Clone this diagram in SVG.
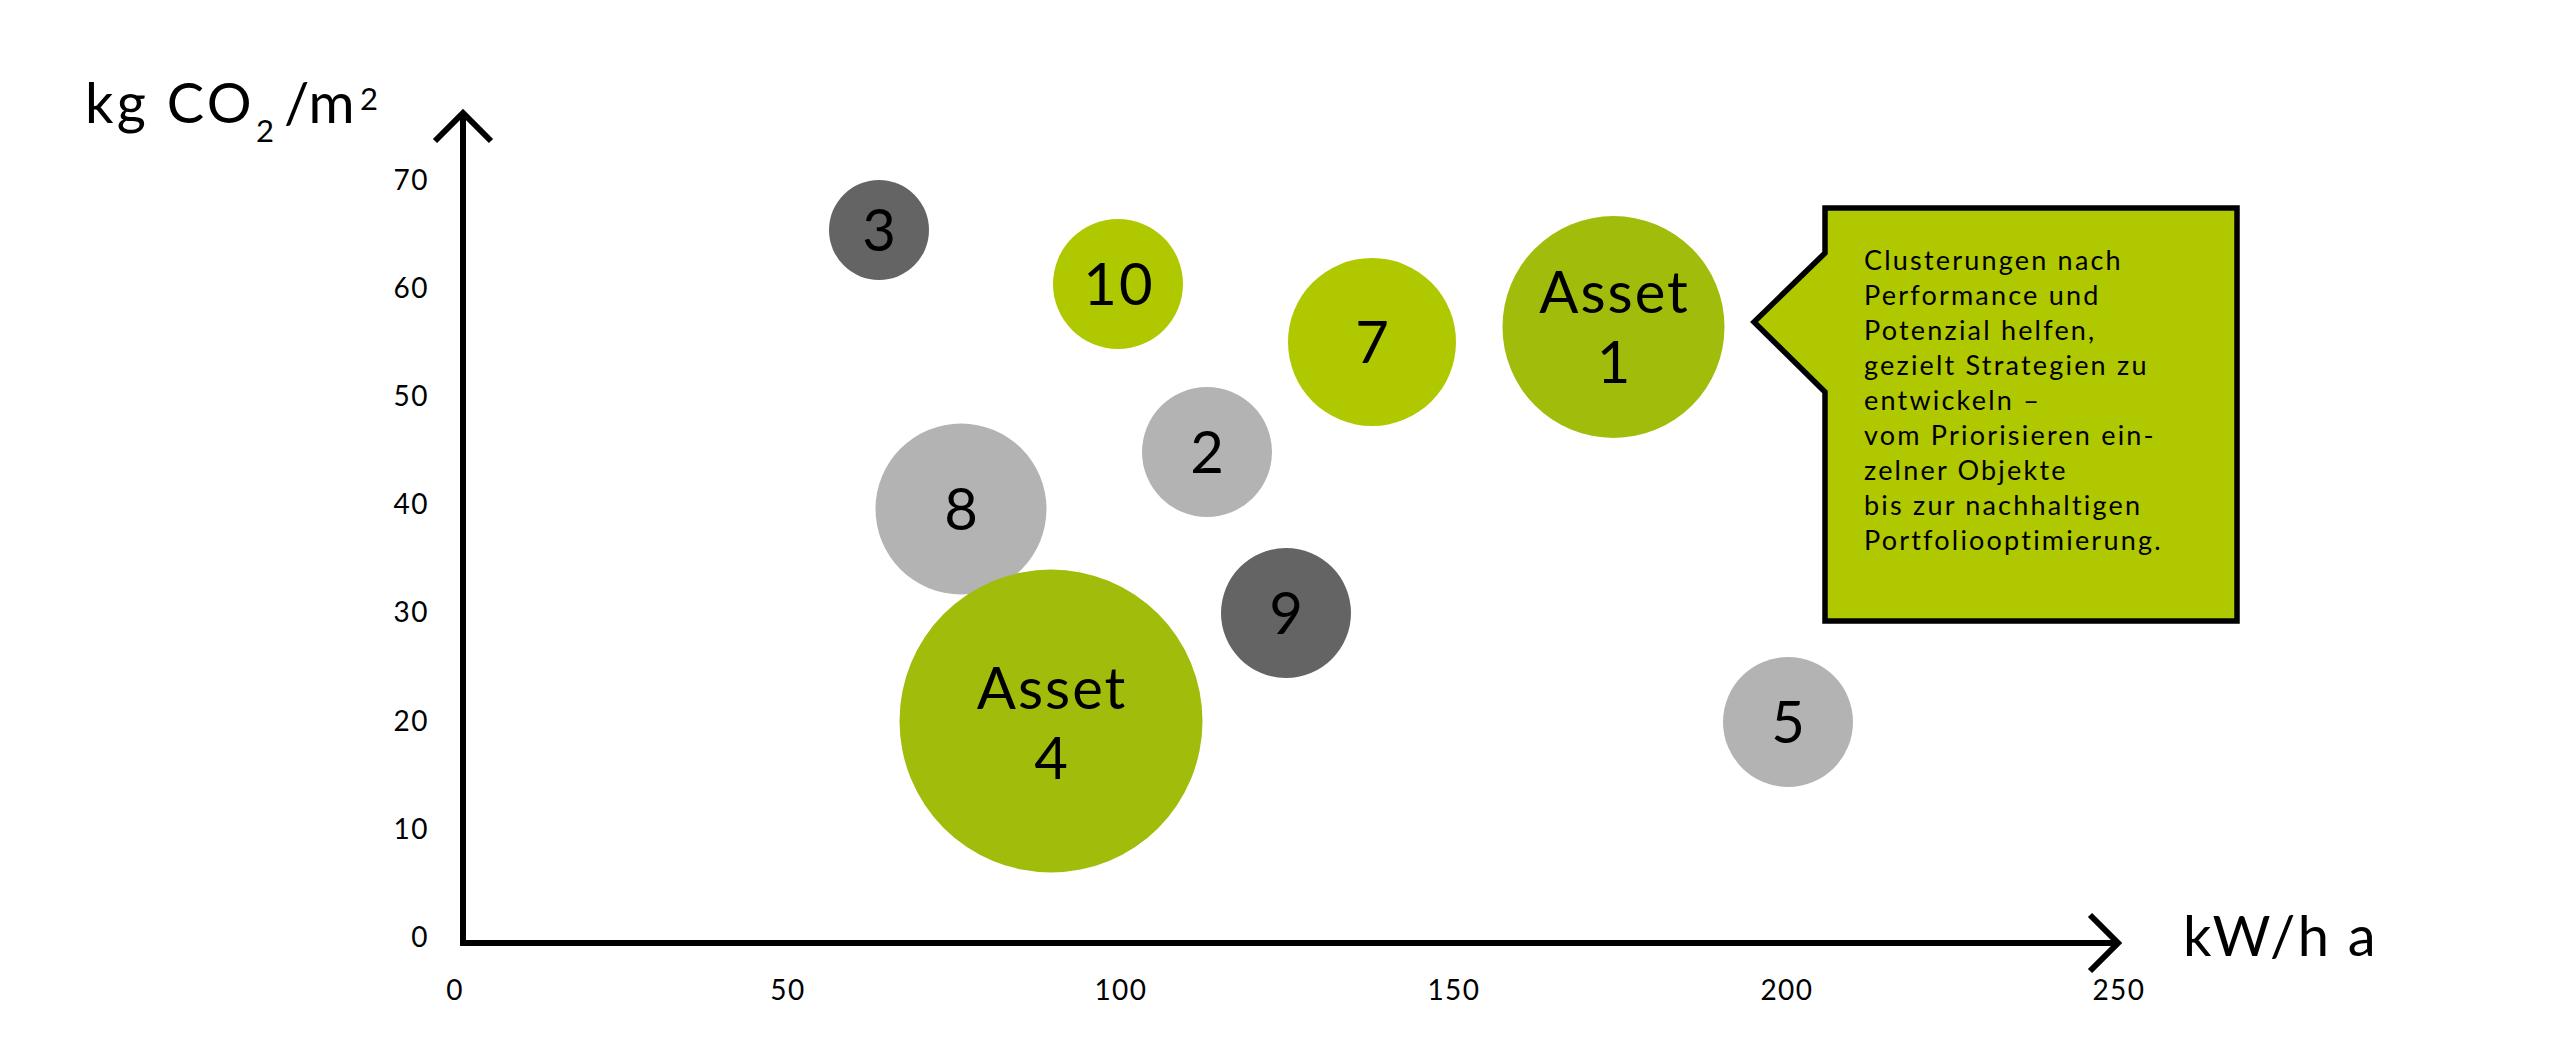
<svg xmlns="http://www.w3.org/2000/svg" width="2560" height="1043" viewBox="0 0 2560 1043">
<style>
text{font-family:Lato,"Liberation Sans",sans-serif;fill:#000}
.tick{font-size:28px;letter-spacing:1.5px}
.title{font-size:56px;letter-spacing:1.5px}
.idx{font-size:31px;letter-spacing:0}
.num{font-size:58px;text-anchor:middle;letter-spacing:2px}
.call{font-size:27px;letter-spacing:2.2px}
.axis{fill:none;stroke:#000;stroke-width:6;stroke-linejoin:miter;stroke-linecap:butt}
.lg{fill:#b0c800}
.ag{fill:#a2bc0b}
.gl{fill:#b3b3b3}
.gd{fill:#646464}
</style>
<rect width="2560" height="1043" fill="#fff"/>
<g id="axes">
<polyline class="axis" points="463,112 463,943 2118,943"/>
<polyline class="axis" points="435,141 463,113 491,141"/>
<polyline class="axis" points="2090,915 2118,943 2090,971"/>
</g>
<g id="y-ticks" class="tick" text-anchor="end">
<text x="429" y="190">70</text>
<text x="429" y="298">60</text>
<text x="429" y="406">50</text>
<text x="429" y="514">40</text>
<text x="429" y="622">30</text>
<text x="429" y="731">20</text>
<text x="429" y="839">10</text>
<text x="429" y="947">0</text>
</g>
<g id="x-ticks" class="tick" text-anchor="middle">
<text x="455" y="1000">0</text>
<text x="788" y="1000">50</text>
<text x="1121" y="1000">100</text>
<text x="1454" y="1000">150</text>
<text x="1787" y="1000">200</text>
<text x="2119" y="1000">250</text>
</g>
<g id="y-title">
<text class="title" y="123"><tspan x="85" textLength="168" lengthAdjust="spacing">kg CO</tspan><tspan class="idx" x="256" y="142">2</tspan><tspan x="284" y="123" textLength="72" lengthAdjust="spacing">/m</tspan><tspan class="idx" x="360" y="110">2</tspan></text>
</g>
<g id="x-title">
<text class="title" x="2183" y="956" textLength="194" lengthAdjust="spacing">kW/h a</text>
</g>
<g id="bubble-3"><circle class="gd" cx="879" cy="230" r="50"/><text class="num" x="880" y="251">3</text></g>
<g id="bubble-10"><circle class="lg" cx="1118" cy="284" r="65"/><text class="num" x="1119" y="305">10</text></g>
<g id="bubble-7"><circle class="lg" cx="1372" cy="342" r="84"/><text class="num" x="1373" y="363">7</text></g>
<g id="bubble-2"><circle class="gl" cx="1207" cy="452" r="65"/><text class="num" x="1208" y="473">2</text></g>
<g id="bubble-8"><circle class="gl" cx="961" cy="509" r="85.5"/><text class="num" x="962" y="530">8</text></g>
<g id="bubble-4"><circle class="ag" cx="1051" cy="721" r="151.5"/><text class="num" x="1052" y="709">Asset</text><text class="num" x="1052" y="779">4</text></g>
<g id="bubble-9"><circle class="gd" cx="1286" cy="613" r="65"/><text class="num" x="1287" y="634">9</text></g>
<g id="bubble-1"><circle class="ag" cx="1613.5" cy="327" r="111"/><text class="num" x="1614.5" y="313">Asset</text><text class="num" x="1614.5" y="383">1</text></g>
<g id="bubble-5"><circle class="gl" cx="1788" cy="722" r="65"/><text class="num" x="1789" y="743">5</text></g>
<g id="callout">
<polygon points="1825,208 2237,208 2237,621 1825,621 1825,392 1754,322 1825,253" fill="#b0c800" stroke="#000" stroke-width="5.5" stroke-linejoin="miter"/>
<text class="call" x="1864" y="270">Clusterungen nach</text>
<text class="call" x="1864" y="305">Performance und</text>
<text class="call" x="1864" y="340">Potenzial helfen,</text>
<text class="call" x="1864" y="375">gezielt Strategien zu</text>
<text class="call" x="1864" y="410">entwickeln –</text>
<text class="call" x="1864" y="445">vom Priorisieren ein-</text>
<text class="call" x="1864" y="480">zelner Objekte</text>
<text class="call" x="1864" y="515">bis zur nachhaltigen</text>
<text class="call" x="1864" y="550">Portfoliooptimierung.</text>
</g>
</svg>
